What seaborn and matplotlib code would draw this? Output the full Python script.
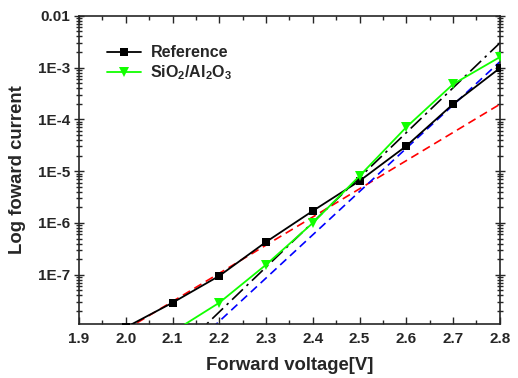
import numpy as np
import pandas as pd
import matplotlib
matplotlib.use("Agg")
import matplotlib.pyplot as plt
import seaborn as sns
from matplotlib.ticker import FixedLocator, LogLocator, NullFormatter, MultipleLocator

sns.set_style("ticks")
plt.rcParams["font.family"] = ["Liberation Sans", "DejaVu Sans"]
plt.rcParams["font.weight"] = "bold"
plt.rcParams["mathtext.fontset"] = "custom"
plt.rcParams["mathtext.bf"] = "Liberation Sans:bold"
plt.rcParams["mathtext.rm"] = "Liberation Sans:bold"
plt.rcParams["mathtext.default"] = "bf"

# Measured forward I-V data
voltage_ref = [2.0, 2.1, 2.2, 2.3, 2.4, 2.5, 2.6, 2.7, 2.8]
current_ref = [9.6e-9, 2.88e-8, 9.5e-8, 4.3e-7, 1.71e-6, 6.5e-6, 3.07e-5, 1.98e-4, 9.8e-4]

voltage_sio2 = [2.1, 2.2, 2.3, 2.4, 2.5, 2.6, 2.7, 2.8]
current_sio2 = [7.8e-9, 2.88e-8, 1.56e-7, 1.0e-6, 8.1e-6, 7.1e-5, 4.8e-4, 1.6e-3]

# Linear (in log scale) fit lines, given by their end points
fit_red_v = [2.0, 2.8]
fit_red_i = [8.7e-9, 1.96e-4]
fit_blue_v = [2.1, 2.8]
fit_blue_i = [1.84e-9, 1.3e-3]
fit_black_v = [2.1, 2.8]
fit_black_i = [2.6e-9, 3.0e-3]

xticks = [1.9, 2.0, 2.1, 2.2, 2.3, 2.4, 2.5, 2.6, 2.7, 2.8]
yticks = [1e-7, 1e-6, 1e-5, 1e-4, 1e-3, 1e-2]
ytick_labels = ["1E-7", "1E-6", "1E-5", "1E-4", "1E-3", "0.01"]

df_ref = pd.DataFrame({"V": voltage_ref, "I": current_ref})
df_sio2 = pd.DataFrame({"V": voltage_sio2, "I": current_sio2})

fig = plt.figure(figsize=(5.18, 3.78), dpi=100)
ax = fig.add_axes([0.1525, 0.143, 0.8125, 0.815])

# fit lines
ax.plot(fit_red_v, fit_red_i, color="red", lw=1.2, ls=(0, (5, 3)), zorder=2)
ax.plot(fit_blue_v, fit_blue_i, color="blue", lw=1.2, ls=(0, (5, 3)), zorder=2)
ax.plot(fit_black_v, fit_black_i, color="black", lw=1.2, ls=(0, (9, 3, 1.5, 3)), zorder=2)

sns.lineplot(data=df_ref, x="V", y="I", ax=ax, color="black", lw=1.3,
             marker="s", markersize=6, markeredgewidth=0, label="Reference", zorder=3)
sns.lineplot(data=df_sio2, x="V", y="I", ax=ax, color="#11ff00", lw=1.3,
             marker="v", markersize=7.5, markeredgewidth=0,
             label="SiO$_2$/Al$_2$O$_3$", zorder=4)

ax.set_yscale("log")
ax.set_xlim(1.9, 2.8)
ax.set_ylim(1.12e-8, 1e-2)

ax.xaxis.set_major_locator(FixedLocator(xticks))
ax.xaxis.set_minor_locator(MultipleLocator(0.05))
ax.set_xticklabels([f"{v:.1f}" for v in xticks])
ax.yaxis.set_major_locator(FixedLocator(yticks))
ax.set_yticklabels(ytick_labels)
ax.yaxis.set_minor_locator(LogLocator(base=10, subs=np.arange(2, 10)))
ax.yaxis.set_minor_formatter(NullFormatter())

ax.tick_params(axis="x", which="both", direction="in", top=True, bottom=True,
               labelsize=11, pad=6, width=1)
ax.tick_params(axis="x", which="major", length=5)
ax.tick_params(axis="x", which="minor", length=3)
ax.tick_params(axis="y", which="both", direction="inout", left=True, right=True,
               labelsize=11, pad=3, width=1)
ax.tick_params(axis="y", which="major", length=7)
ax.tick_params(axis="y", which="minor", length=4)
for lbl in ax.get_xticklabels() + ax.get_yticklabels():
    lbl.set_fontweight("bold")

for s in ax.spines.values():
    s.set_linewidth(1.2)
    s.set_visible(True)

ax.set_xlabel("Forward voltage[V]", fontsize=13.3, fontweight="bold", labelpad=8)
ax.set_ylabel("Log foward current", fontsize=13.3, fontweight="bold", labelpad=8)
ax.yaxis.set_label_coords(-0.125, 0.5)

leg = ax.legend(loc="upper left", bbox_to_anchor=(0.052, 0.925), frameon=False,
                fontsize=11.5, handlelength=2.1, handletextpad=0.6,
                labelspacing=0.2, borderaxespad=0)
for t in leg.get_texts():
    t.set_fontweight("bold")

fig.savefig("out.png", dpi=100)
